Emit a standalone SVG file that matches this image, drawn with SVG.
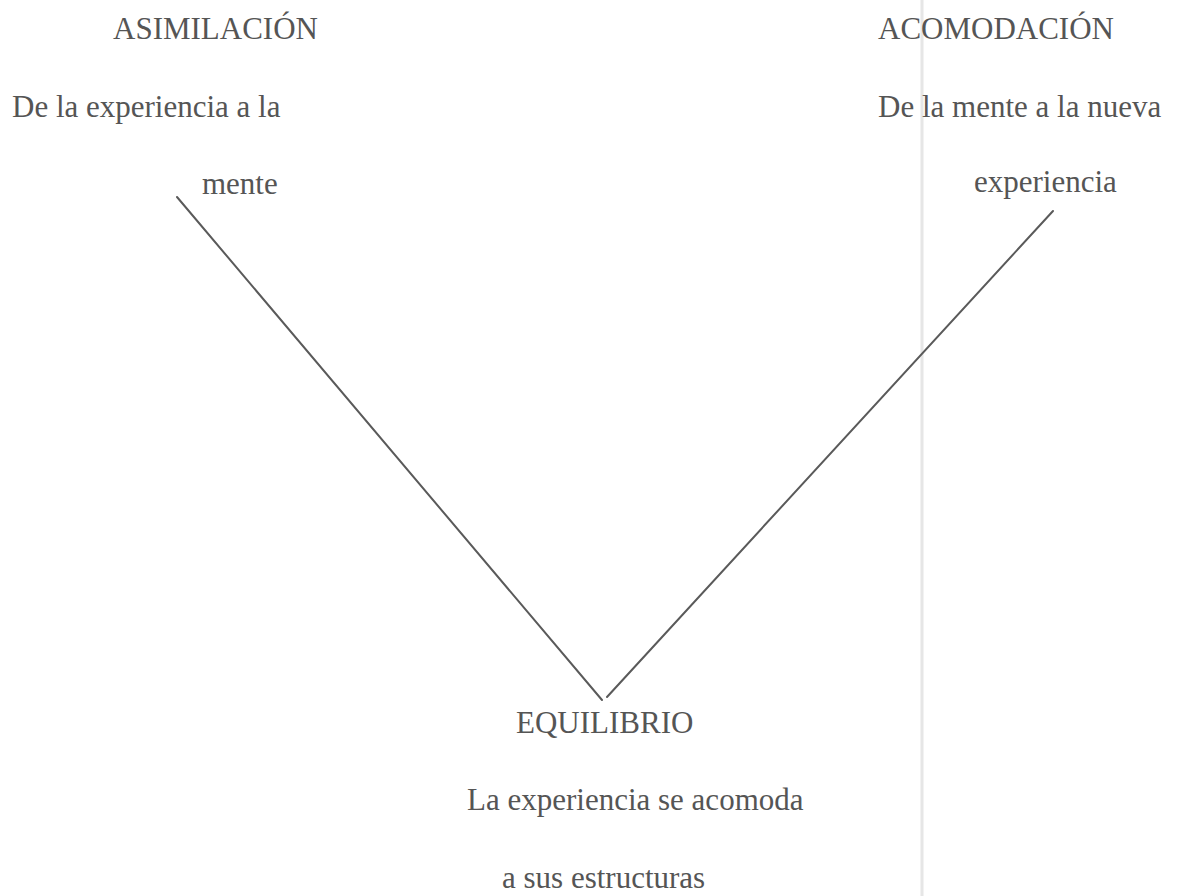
<svg xmlns="http://www.w3.org/2000/svg" width="1181" height="896" viewBox="0 0 1181 896">
<style>
.t{font-family:'Liberation Serif',serif;font-size:31px;fill:#555}
.c{stroke:#5a5a5a;stroke-width:2;fill:none;stroke-linecap:round}
</style>
<rect width="1181" height="896" fill="#fff"/>
<line x1="922" y1="0" x2="922" y2="896" stroke="#e6e6e6" stroke-width="3"/>
<g id="asimilacion" class="t" font-family="Liberation Serif, serif">
<text x="113" y="39">ASIMILACIÓN</text>
<text x="12" y="117">De la experiencia a la</text>
<text x="202" y="194">mente</text>
</g>
<g id="acomodacion" class="t" font-family="Liberation Serif, serif">
<text x="878" y="39">ACOMODACIÓN</text>
<text x="878" y="117">De la mente a la nueva</text>
<text x="974" y="192">experiencia</text>
</g>
<g id="equilibrio" class="t" font-family="Liberation Serif, serif">
<text x="516" y="733">EQUILIBRIO</text>
<text x="467" y="810">La experiencia se acomoda</text>
<text x="502" y="888">a sus estructuras</text>
</g>
<g id="connectors">
<line class="c" x1="177" y1="197" x2="602" y2="700"/>
<line class="c" x1="1053" y1="211" x2="607" y2="697"/>
</g>
</svg>
